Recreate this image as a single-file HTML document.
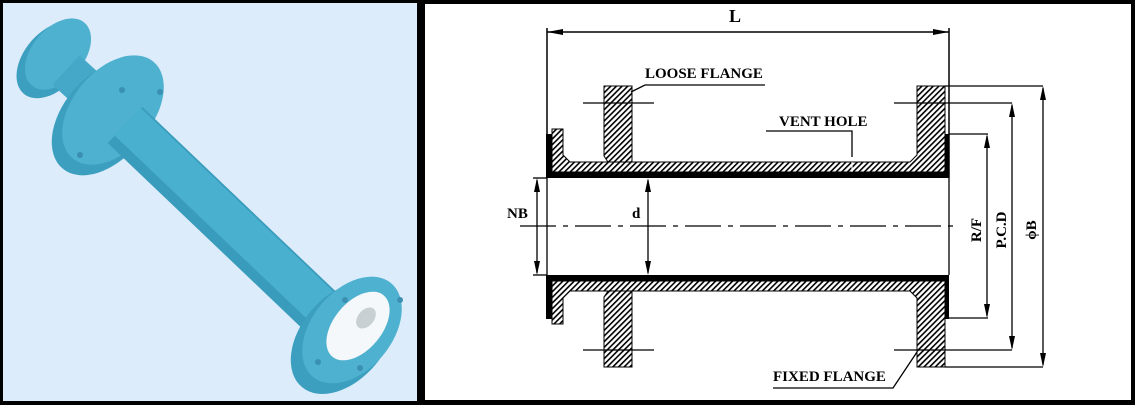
<!DOCTYPE html>
<html><head><meta charset="utf-8"><style>
html,body{margin:0;padding:0;background:#000;width:1135px;height:405px;overflow:hidden}
svg{display:block}
text{font-family:"Liberation Serif",serif;font-weight:bold;fill:#000}
</style></head><body>
<svg width="1135" height="405" viewBox="0 0 1135 405" xmlns="http://www.w3.org/2000/svg">
<defs>
<pattern id="h" width="4" height="4" patternUnits="userSpaceOnUse" patternTransform="rotate(45)">
<rect width="4" height="4" fill="#fff"/><rect width="1.6" height="4" fill="#000"/>
</pattern>
</defs>
<rect x="0" y="0" width="1135" height="405" fill="#000"/>
<rect x="3" y="3" width="414" height="398" fill="#dcecfa"/>
<rect x="425" y="4" width="706" height="396" fill="#fff"/>

<g>
<ellipse cx="52" cy="60" rx="28" ry="44" transform="rotate(40 52 60)" fill="#3c9fbf"/>
<ellipse cx="58" cy="54" rx="26" ry="41" transform="rotate(40 58 54)" fill="#4fb1d0"/>
<line x1="66" y1="70" x2="112" y2="112" stroke="#45a8c8" stroke-width="40"/>
<ellipse cx="105" cy="118" rx="42" ry="66" transform="rotate(40 105 118)" fill="#3c9fbf"/>
<ellipse cx="113" cy="110" rx="40" ry="63" transform="rotate(40 113 110)" fill="#4fb1d0"/>
<line x1="125" y1="125" x2="340" y2="330" stroke="#3a9cbc" stroke-width="50"/>
<line x1="128" y1="122" x2="343" y2="327" stroke="#4ab0d0" stroke-width="38"/>
<ellipse cx="343" cy="338" rx="42" ry="64" transform="rotate(40 343 338)" fill="#3c9fbf"/>
<ellipse cx="352" cy="330" rx="40" ry="61" transform="rotate(40 352 330)" fill="#4fb1d0"/>
<ellipse cx="358" cy="326" rx="24" ry="40" transform="rotate(40 358 326)" fill="#f4f8fa"/>
<ellipse cx="366" cy="318" rx="8" ry="12" transform="rotate(40 366 318)" fill="#c8d0d4"/>
<circle cx="122" cy="90" r="3" fill="#3a90b0"/><circle cx="160" cy="92" r="3" fill="#3a90b0"/>
<circle cx="80" cy="155" r="3" fill="#3a90b0"/><circle cx="345" cy="300" r="3" fill="#3a90b0"/>
<circle cx="400" cy="300" r="3" fill="#3a90b0"/><circle cx="318" cy="362" r="3" fill="#3a90b0"/>
<circle cx="360" cy="368" r="3" fill="#3a90b0"/>
</g>

<g stroke="#000" fill="none">
<line x1="547" y1="28" x2="547" y2="178" stroke-width="1.5"/>
<line x1="949" y1="28" x2="949" y2="178" stroke-width="1.5"/>
<line x1="547" y1="32" x2="949" y2="32" stroke-width="1.5"/>
</g>
<polygon points="547,32 563,29 563,35" fill="#000"/>
<polygon points="949,32 933,29 933,35" fill="#000"/>
<text x="735" y="22" font-size="18" text-anchor="middle">L</text>

<path d="M552,129 L563,129 L563,155 L570,162 L910,162 L917,155 L917,86 L945,86 L945,172 L552,172 Z" fill="url(#h)" stroke="#000" stroke-width="1"/>
<path d="M546,134 L552,134 L552,172 L945,172 L945,134 L949,134 L949,178 L546,178 Z" fill="#000"/>
<path d="M604,86 L632,86 L632,162 L608,162 L604,156 Z" fill="url(#h)" stroke="#000" stroke-width="1"/>
<path d="M552,324 L563,324 L563,298 L570,291 L910,291 L917,298 L917,367 L945,367 L945,281 L552,281 Z" fill="url(#h)" stroke="#000" stroke-width="1"/>
<path d="M546,319 L552,319 L552,281 L945,281 L945,319 L949,319 L949,275 L546,275 Z" fill="#000"/>
<path d="M604,367 L632,367 L632,291 L608,291 L604,297 Z" fill="url(#h)" stroke="#000" stroke-width="1"/>
<line x1="852" y1="162" x2="852" y2="172" stroke="#fff" stroke-width="1"/>

<g stroke="#000" fill="none" stroke-width="1.3">
<line x1="547" y1="178" x2="547" y2="275"/>
<line x1="949" y1="178" x2="949" y2="275"/>
<line x1="583" y1="103" x2="654" y2="103"/><line x1="583" y1="350" x2="654" y2="350"/>
<line x1="894" y1="103" x2="1012" y2="103"/><line x1="894" y1="350" x2="1012" y2="350"/>
<line x1="520" y1="226" x2="953" y2="226" stroke-dasharray="36,7,5,7"/>
<polyline points="631,92 645,85 765,85"/>
<polyline points="766,131 852,131 852,157"/>
<polyline points="773,388 893,388 917,352"/>
<line x1="533" y1="178" x2="547" y2="178"/><line x1="533" y1="275" x2="547" y2="275"/>
<line x1="537" y1="180" x2="537" y2="273"/>
<line x1="648" y1="180" x2="648" y2="273"/>
<line x1="945" y1="86" x2="1043" y2="86"/><line x1="945" y1="367" x2="1043" y2="367"/>
<line x1="1043" y1="88" x2="1043" y2="365"/>
<line x1="1012" y1="105" x2="1012" y2="348"/>
<line x1="949" y1="134" x2="988" y2="134"/><line x1="949" y1="318" x2="988" y2="318"/>
<line x1="987" y1="136" x2="987" y2="316"/>
</g>
<g fill="#000">
<polygon points="537,178 534,192 540,192"/><polygon points="537,275 534,261 540,261"/>
<polygon points="648,178 645,192 651,192"/><polygon points="648,275 645,261 651,261"/>
<polygon points="1043,86 1040,100 1046,100"/><polygon points="1043,367 1040,353 1046,353"/>
<polygon points="1012,103 1009,117 1015,117"/><polygon points="1012,350 1009,336 1015,336"/>
<polygon points="987,134 984,148 990,148"/><polygon points="987,318 984,304 990,304"/>
</g>
<text x="645" y="78" font-size="15">LOOSE FLANGE</text>
<text x="779" y="126" font-size="15">VENT HOLE</text>
<text x="773" y="381" font-size="15">FIXED FLANGE</text>
<text x="507" y="218" font-size="15">NB</text>
<text x="632" y="218" font-size="15">d</text>
<text transform="translate(981,230) rotate(-90)" font-size="15" text-anchor="middle">R/F</text>
<text transform="translate(1006,230) rotate(-90)" font-size="15" text-anchor="middle">P.C.D</text>
<text transform="translate(1036,230) rotate(-90)" font-size="15" text-anchor="middle">ϕB</text>
</svg>
</body></html>
